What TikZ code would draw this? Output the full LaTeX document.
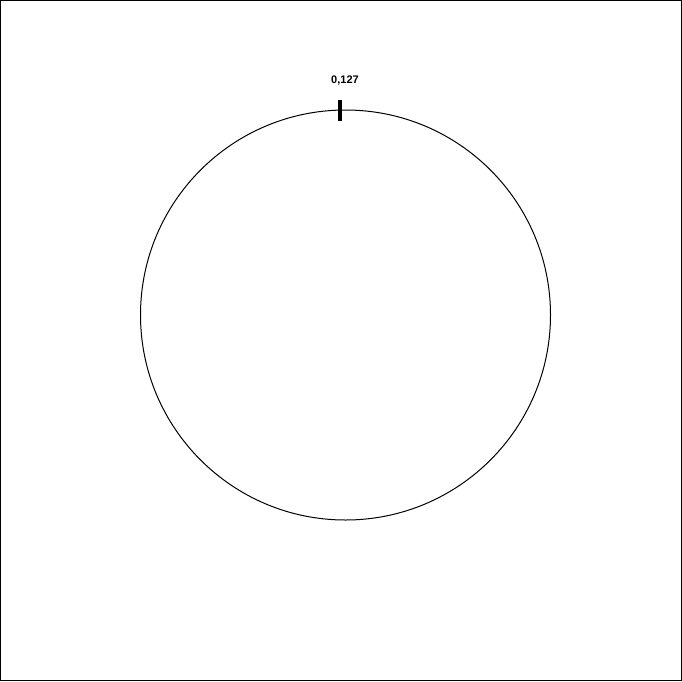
\documentclass[tikz,border=0pt]{standalone}
\usepackage{fontspec}
\setmainfont{Liberation Sans}
\usetikzlibrary{positioning}

\begin{document}
\begin{tikzpicture}[
  x=1pt, y=-1pt,
  ring/.style={draw, circle, line width=1pt, minimum size=410pt, inner sep=0pt},
  tickmark/.style={line width=4pt},
  poslabel/.style={font=\fontsize{11}{13}\selectfont\bfseries, inner sep=0pt}
]
% frame
\draw[line width=1pt] (0.5,0.5) rectangle (681.5,680.5);
\useasboundingbox (0,0) rectangle (682,681);

% circle
\node[ring] (ring) at (345.5,315) {};

% tick at the start position
\coordinate (tickin) at (340,121);
\coordinate (tickout) at (340,100);
\draw[tickmark] (tickin) -- (tickout);

% label
\node[poslabel] (pos0) at (345,81) {0,127};

\end{tikzpicture}
\end{document}
